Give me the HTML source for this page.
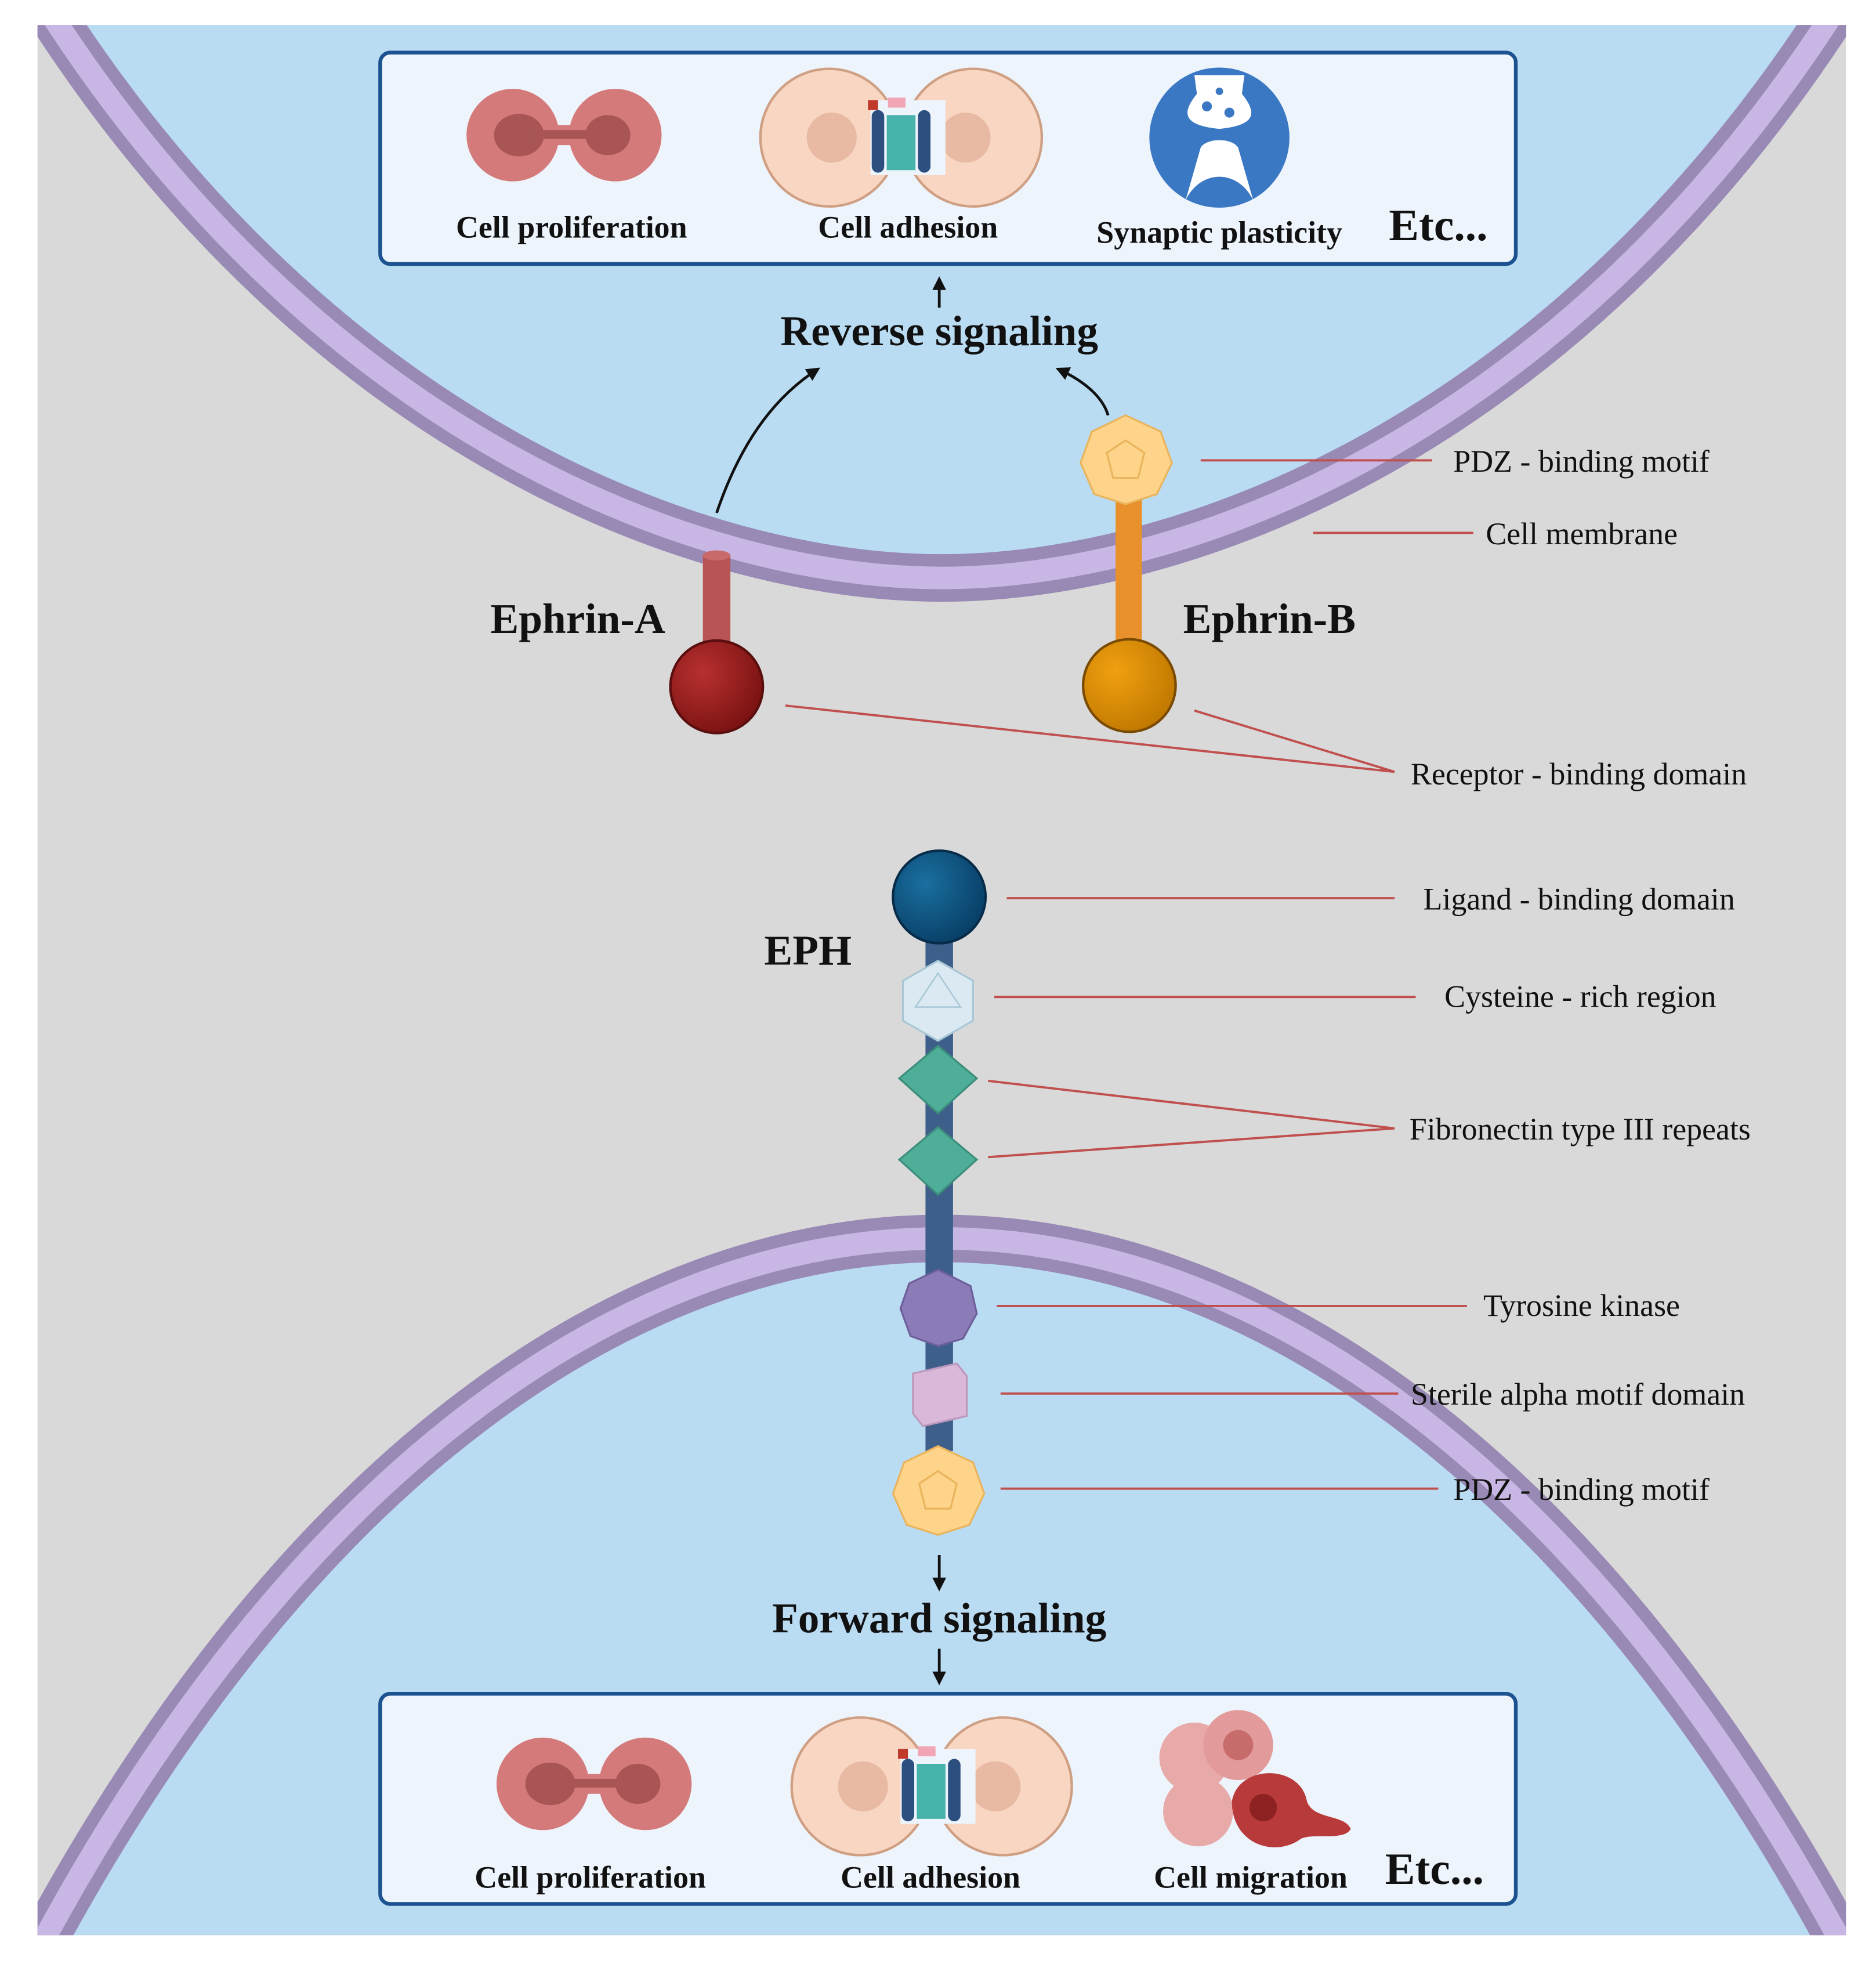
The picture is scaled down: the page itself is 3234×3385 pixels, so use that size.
<!DOCTYPE html>
<html><head><meta charset="utf-8"><style>html,body{margin:0;padding:0;background:#fff}svg{display:block}</style></head>
<body>
<svg width="3234" height="3385" viewBox="0 0 1500 1570" xmlns="http://www.w3.org/2000/svg" font-family="Liberation Serif, serif">
<defs>
<clipPath id="c"><rect x="30" y="20" width="1446" height="1527"/></clipPath>
<marker id="ah" viewBox="0 0 10 10" refX="8" refY="5" markerWidth="5" markerHeight="5" orient="auto"><path d="M0,0 L10,5 L0,10 z" fill="#111"/></marker>
<radialGradient id="gA" cx="0.35" cy="0.35" r="0.7"><stop offset="0" stop-color="#b83030"/><stop offset="1" stop-color="#7a1212"/></radialGradient>
<radialGradient id="gB" cx="0.35" cy="0.35" r="0.7"><stop offset="0" stop-color="#f0a010"/><stop offset="1" stop-color="#c07800"/></radialGradient>
<radialGradient id="gE" cx="0.35" cy="0.35" r="0.7"><stop offset="0" stop-color="#1a6fa0"/><stop offset="1" stop-color="#083f66"/></radialGradient>
</defs>
<g clip-path="url(#c)">
<rect x="0" y="0" width="1500" height="1570" fill="#d9d9d9"/>
<path d="M-10,-40 L40,10 C260,350 560,462 753,462 C946,462 1246,350 1466,10 L1516,-40 Z" fill="#badcf3"/>
<path d="M40,10 C260,350 560,462 753,462 C946,462 1246,350 1466,10" fill="none" stroke="#9889b5" stroke-width="38"/>
<path d="M40,10 C260,350 560,462 753,462 C946,462 1246,350 1466,10" fill="none" stroke="#c8b7e4" stroke-width="18"/>
<path d="M-20,1620 L30,1560 C250,1150 520,990 753,990 C986,990 1256,1150 1476,1560 L1526,1620 Z" fill="#badcf3"/>
<path d="M30,1560 C250,1150 520,990 753,990 C986,990 1256,1150 1476,1560" fill="none" stroke="#9889b5" stroke-width="38"/>
<path d="M30,1560 C250,1150 520,990 753,990 C986,990 1256,1150 1476,1560" fill="none" stroke="#c8b7e4" stroke-width="18"/>
</g>

<rect x="304" y="42" width="908" height="169" rx="8" fill="#edf4fc" stroke="#1d5290" stroke-width="3"/>
<rect x="304" y="1354" width="908" height="168" rx="8" fill="#edf4fc" stroke="#1d5290" stroke-width="3"/>

<g>
<circle cx="410" cy="108" r="37" fill="#d47a7a"/><circle cx="492" cy="108" r="37" fill="#d47a7a"/>
<rect x="420" y="100" width="60" height="16" fill="#d47a7a"/>
<ellipse cx="415" cy="108" rx="20" ry="17" fill="#a95555"/><ellipse cx="486" cy="108" rx="18" ry="16" fill="#a95555"/>
<rect x="425" y="104" width="50" height="7" fill="#a95555"/>
</g>
<g>
<circle cx="663" cy="110" r="55" fill="#f8d6c1" stroke="#cf9f84" stroke-width="2"/>
<circle cx="778" cy="110" r="55" fill="#f8d6c1" stroke="#cf9f84" stroke-width="2"/>
<circle cx="665" cy="110" r="20" fill="#e8b9a3"/><circle cx="772" cy="110" r="20" fill="#e8b9a3"/>
<rect x="696" y="80" width="60" height="60" fill="#edf4fc"/>
<rect x="697" y="88" width="10" height="50" rx="5" fill="#2d4f80"/><rect x="734" y="88" width="10" height="50" rx="5" fill="#2d4f80"/>
<rect x="709" y="92" width="23" height="44" fill="#48b3aa"/>
<rect x="710" y="78" width="14" height="8" fill="#f2a5b5"/><rect x="694" y="80" width="8" height="8" fill="#c0392b"/>
</g>
<g>
<circle cx="975" cy="110" r="56" fill="#3b78c4"/>
<path d="M955,60 L995,60 L993,75 C1005,90 1005,100 975,103 C945,100 945,90 957,75 Z" fill="#fff"/>
<path d="M948,160 C960,135 990,135 1002,160 L990,118 C985,110 965,110 960,118 Z" fill="#fff"/>
<circle cx="965" cy="85" r="4" fill="#3b78c4"/><circle cx="983" cy="90" r="4" fill="#3b78c4"/><circle cx="975" cy="73" r="3" fill="#3b78c4"/>
</g>
<g font-weight="bold" font-size="25" text-anchor="middle" fill="#111">
<text x="457" y="190">Cell proliferation</text>
<text x="726" y="190">Cell adhesion</text>
<text x="975" y="194">Synaptic plasticity</text>
<text x="1150" y="192" font-size="36">Etc...</text>
</g>

<g>
<circle cx="434" cy="1426" r="37" fill="#d47a7a"/><circle cx="516" cy="1426" r="37" fill="#d47a7a"/>
<rect x="444" y="1418" width="60" height="16" fill="#d47a7a"/>
<ellipse cx="440" cy="1426" rx="20" ry="17" fill="#a95555"/><ellipse cx="510" cy="1426" rx="18" ry="16" fill="#a95555"/>
<rect x="450" y="1422" width="50" height="7" fill="#a95555"/>
</g>
<g>
<circle cx="688" cy="1428" r="55" fill="#f8d6c1" stroke="#cf9f84" stroke-width="2"/>
<circle cx="802" cy="1428" r="55" fill="#f8d6c1" stroke="#cf9f84" stroke-width="2"/>
<circle cx="690" cy="1428" r="20" fill="#e8b9a3"/><circle cx="796" cy="1428" r="20" fill="#e8b9a3"/>
<rect x="720" y="1398" width="60" height="60" fill="#edf4fc"/>
<rect x="721" y="1406" width="10" height="50" rx="5" fill="#2d4f80"/><rect x="758" y="1406" width="10" height="50" rx="5" fill="#2d4f80"/>
<rect x="733" y="1410" width="23" height="44" fill="#48b3aa"/>
<rect x="734" y="1396" width="14" height="8" fill="#f2a5b5"/><rect x="718" y="1398" width="8" height="8" fill="#c0392b"/>
</g>
<g>
<circle cx="955" cy="1405" r="28" fill="#e8a9a9"/><circle cx="990" cy="1395" r="28" fill="#e29a9a"/>
<circle cx="958" cy="1448" r="28" fill="#e8a9a9"/>
<circle cx="990" cy="1395" r="12" fill="#c86b6b"/>
<path d="M985,1440 C990,1410 1040,1410 1045,1440 C1050,1455 1075,1450 1080,1462 C1075,1472 1050,1465 1040,1470 C1020,1485 985,1475 985,1440 Z" fill="#b83a3a"/>
<circle cx="1010" cy="1445" r="11" fill="#8e2222"/>
</g>
<g font-weight="bold" font-size="25" text-anchor="middle" fill="#111">
<text x="472" y="1509">Cell proliferation</text>
<text x="744" y="1509">Cell adhesion</text>
<text x="1000" y="1509">Cell migration</text>
<text x="1147" y="1506" font-size="36">Etc...</text>
</g>

<g font-weight="bold" font-size="34" text-anchor="middle" fill="#111">
<text x="751" y="276">Reverse signaling</text>
<text x="751" y="1305">Forward signaling</text>
<text x="462" y="506">Ephrin-A</text>
<text x="1015" y="506">Ephrin-B</text>
<text x="646" y="771">EPH</text>
</g>
<g stroke="#111" stroke-width="2.2" fill="none" marker-end="url(#ah)">
<line x1="751" y1="246" x2="751" y2="223"/>
<path d="M573,410 C590,360 615,320 654,295"/>
<path d="M886,332 C882,318 868,305 846,295"/>
<line x1="751" y1="1243" x2="751" y2="1270"/>
<line x1="751" y1="1318" x2="751" y2="1345"/>
</g>

<rect x="562" y="443" width="22" height="80" fill="#b85454"/>
<ellipse cx="573" cy="444" rx="11" ry="4" fill="#c86a6a"/>
<circle cx="573" cy="549" r="37" fill="url(#gA)" stroke="#5a0e0e" stroke-width="2"/>
<rect x="892" y="395" width="21" height="125" fill="#e8902c"/>
<circle cx="903" cy="548" r="37" fill="url(#gB)" stroke="#7a4a00" stroke-width="2"/>
<polygon points="900,332 928,345 937,370 925,395 900,403 875,395 864,370 873,345" fill="#fdd48a" stroke="#eab45c" stroke-width="1.5"/>
<polygon points="900,352 915,362 910,382 890,382 885,362" fill="none" stroke="#eab45c" stroke-width="1.5"/>

<rect x="740" y="720" width="22" height="440" fill="#3d5f8a"/>
<circle cx="751" cy="717" r="37" fill="url(#gE)" stroke="#062c4a" stroke-width="2"/>
<polygon points="750,768 778,784 778,816 750,832 722,816 722,784" fill="#dbeaf2" stroke="#a9c7d6" stroke-width="1.5"/>
<polygon points="750,778 768,805 732,805" fill="none" stroke="#a9c7d6" stroke-width="1.2"/>
<polygon points="750,836 781,862 750,890 719,862" fill="#4fae98" stroke="#3c8e7c" stroke-width="1.5"/>
<polygon points="750,901 781,927 750,955 719,927" fill="#4fae98" stroke="#3c8e7c" stroke-width="1.5"/>
<polygon points="750,1015 776,1028 781,1050 770,1070 750,1076 728,1068 720,1046 727,1026" fill="#8b7cb8" stroke="#6d5f99" stroke-width="1.5"/>
<polygon points="730,1098 765,1090 773,1100 773,1132 738,1140 730,1130" fill="#d9b8d9" stroke="#bd98bd" stroke-width="1.5"/>
<polygon points="750,1156 778,1169 787,1194 775,1219 750,1227 725,1219 714,1194 723,1169" fill="#fdd48a" stroke="#eab45c" stroke-width="1.5"/>
<polygon points="750,1176 765,1186 760,1206 740,1206 735,1186" fill="none" stroke="#eab45c" stroke-width="1.5"/>

<g stroke="#c0504d" stroke-width="1.8" fill="none">
<line x1="960" y1="368" x2="1145" y2="368"/>
<line x1="1050" y1="426" x2="1178" y2="426"/>
<polyline points="628,564 1115,617 955,568"/>
<line x1="805" y1="718" x2="1115" y2="718"/>
<line x1="795" y1="797" x2="1132" y2="797"/>
<polyline points="790,864 1115,902 790,925"/>
<line x1="797" y1="1044" x2="1173" y2="1044"/>
<line x1="800" y1="1114" x2="1118" y2="1114"/>
<line x1="800" y1="1190" x2="1150" y2="1190"/>
</g>
<g font-size="25" fill="#111">
<text x="1162" y="377">PDZ - binding motif</text>
<text x="1188" y="435">Cell membrane</text>
<text x="1128" y="627">Receptor - binding domain</text>
<text x="1138" y="727">Ligand - binding domain</text>
<text x="1155" y="805">Cysteine - rich region</text>
<text x="1127" y="911">Fibronectin type III repeats</text>
<text x="1186" y="1052">Tyrosine kinase</text>
<text x="1128" y="1123">Sterile alpha motif domain</text>
<text x="1162" y="1199">PDZ - binding motif</text>
</g>
</svg>
</body></html>
